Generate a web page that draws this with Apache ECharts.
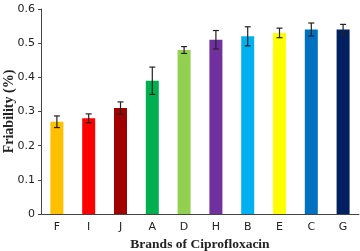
<!DOCTYPE html>
<html>
<head>
<meta charset="UTF-8">
<script src="https://cdn.jsdelivr.net/npm/echarts@6/dist/echarts.min.js"></script>
<style>
  html, body { margin: 0; padding: 0; background: #fff; }
  #chart { width: 360px; height: 251px; }
</style>
</head>
<body>
<div id="chart"></div>
<script>
// brands in display order
const brands = ['F', 'I', 'J', 'A', 'D', 'H', 'B', 'E', 'C', 'G'];
const friability = [0.27, 0.28, 0.31, 0.39, 0.48, 0.51, 0.52, 0.53, 0.54, 0.54];
const errors = [0.017, 0.013, 0.018, 0.04, 0.01, 0.027, 0.028, 0.014, 0.019, 0.015];
const barColors = ['#FFC000', '#FF0000', '#A00000', '#00B050', '#92D050',
                   '#7030A0', '#00B0F0', '#FFFF00', '#0070C0', '#002060'];

const errData = brands.map((b, i) => [i, friability[i] - errors[i], friability[i] + errors[i]]);

const chart = echarts.init(document.getElementById('chart'));

chart.setOption({
  animation: false,
  grid: { left: 41, right: 1, top: 9, bottom: 37, outerBoundsMode: 'none', containLabel: false },
  xAxis: {
    type: 'category',
    data: brands,
    name: 'Brands of Ciprofloxacin',
    nameLocation: 'middle',
    nameGap: 24,
    nameMoveOverlap: false,
    nameTextStyle: { fontFamily: 'Liberation Serif', fontWeight: 'bold', fontSize: 13.5, color: '#222' },
    axisLine: { lineStyle: { color: '#444', width: 1 } },
    axisTick: { show: false },
    axisLabel: { fontFamily: 'DejaVu Sans', fontSize: 11, color: '#222', margin: 8 }
  },
  yAxis: {
    type: 'value',
    min: 0,
    max: 0.6,
    interval: 0.1,
    name: 'Friability (%)',
    nameLocation: 'middle',
    nameGap: 25,
    nameMoveOverlap: false,
    nameTextStyle: { fontFamily: 'Liberation Serif', fontWeight: 'bold', fontSize: 14, color: '#222' },
    axisLine: { show: true, lineStyle: { color: '#444', width: 1 } },
    axisTick: { show: true, length: 3, lineStyle: { color: '#444' } },
    splitLine: { show: false },
    axisLabel: {
      fontFamily: 'DejaVu Sans', fontSize: 11, color: '#222', margin: 6,
      formatter: v => String(Math.round(v * 10) / 10)
    }
  },
  series: [
    {
      type: 'bar',
      barWidth: 13,
      data: friability.map((v, i) => ({ value: v, itemStyle: { color: barColors[i] } }))
    },
    {
      type: 'custom',
      data: errData,
      z: 5,
      renderItem: function (params, api) {
        const x = api.value(0);
        const lo = api.coord([x, api.value(1)]);
        const hi = api.coord([x, api.value(2)]);
        const w = 3;
        const style = { stroke: '#222', lineWidth: 1.2 };
        return {
          type: 'group',
          children: [
            { type: 'line', shape: { x1: lo[0], y1: lo[1], x2: hi[0], y2: hi[1] }, style },
            { type: 'line', shape: { x1: lo[0] - w, y1: lo[1], x2: lo[0] + w, y2: lo[1] }, style },
            { type: 'line', shape: { x1: hi[0] - w, y1: hi[1], x2: hi[0] + w, y2: hi[1] }, style }
          ]
        };
      }
    }
  ]
});
</script>
</body>
</html>
